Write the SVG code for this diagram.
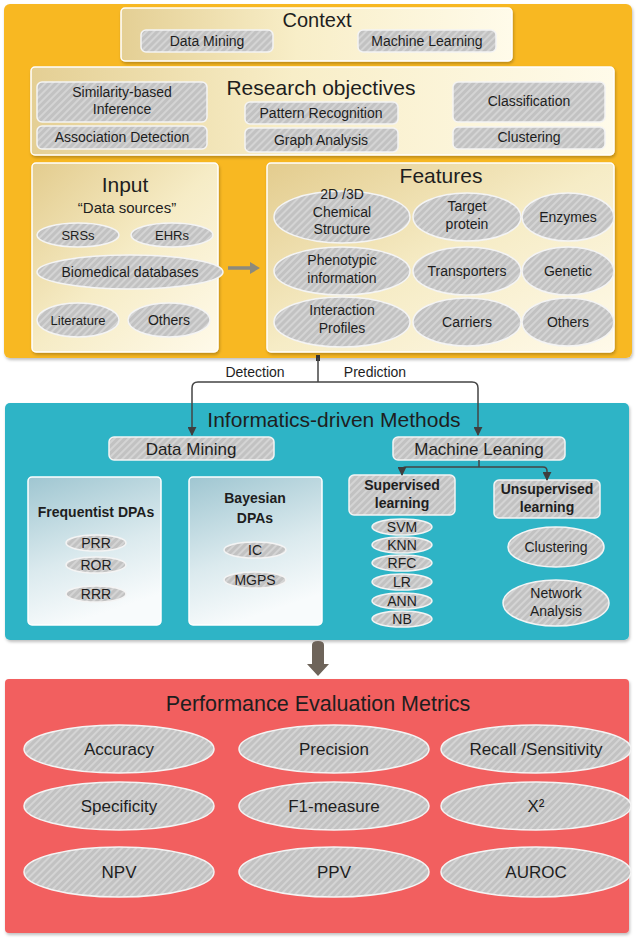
<svg xmlns="http://www.w3.org/2000/svg" width="640" height="942" viewBox="0 0 640 942">
<defs>
<pattern id="hatch" width="5" height="5" patternUnits="userSpaceOnUse" patternTransform="rotate(45)"><rect width="5" height="5" fill="#c2c2c2"/><line x1="1" y1="0" x2="1" y2="5" stroke="#d4d4d4" stroke-width="2"/></pattern>
<linearGradient id="gHor" x1="0" y1="0" x2="1" y2="0"><stop offset="0" stop-color="#e4cf94"/><stop offset="0.45" stop-color="#f8eec8"/><stop offset="1" stop-color="#fffbea"/></linearGradient>
<linearGradient id="gDiag" x1="0" y1="0" x2="1" y2="1"><stop offset="0" stop-color="#e3cc8e"/><stop offset="0.5" stop-color="#f6ecc6"/><stop offset="1" stop-color="#fffaea"/></linearGradient>
<linearGradient id="gBlue" x1="0" y1="0" x2="0.3" y2="1"><stop offset="0" stop-color="#9fc6d1"/><stop offset="0.6" stop-color="#dbeaee"/><stop offset="1" stop-color="#f8fbfc"/></linearGradient>
<filter id="sh" x="-5%" y="-5%" width="110%" height="115%"><feDropShadow dx="1" dy="2" stdDeviation="1.5" flood-color="#000" flood-opacity="0.25"/></filter>
<marker id="ah" viewBox="0 0 10 10" refX="9" refY="5" markerWidth="6" markerHeight="6" orient="auto"><path d="M0,0 L10,5 L0,10 Z" fill="#3e3e3e"/></marker>
<style>
text{font-family:"Liberation Sans",Arial,sans-serif;fill:#1e1e1e;text-anchor:middle}
.pill{fill:url(#hatch);stroke:#f4f4f4;stroke-width:1.5}
.box{stroke:#ffffff;stroke-width:1.5}
.t13{font-size:13px}.t14{font-size:14px}.t15{font-size:15px}.t17{font-size:17px}
.h{font-size:21px}
.b{font-weight:bold;font-size:14px}
.con{fill:none;stroke:#444;stroke-width:1.5}
</style>
</defs>

<!-- panels -->
<g id="panel-top"><rect x="4" y="4" width="628" height="354" rx="6" fill="#f8b822" filter="url(#sh)"/></g>
<g id="panel-methods"><rect x="5" y="403" width="624" height="237" rx="5" fill="#2db4c6" filter="url(#sh)"/></g>
<g id="panel-metrics"><rect x="5" y="679" width="624" height="254" rx="4" fill="#f25e5e" filter="url(#sh)"/></g>

<!-- Context -->
<g id="context">
<rect class="box" x="121" y="8" width="391" height="53" rx="4" fill="url(#gHor)" filter="url(#sh)"/>
<text class="h" x="317" y="27" style="font-size:20px">Context</text>
<g id="ctx-dm"><rect class="pill" x="141" y="30" width="132" height="22" rx="5"/><text class="t14" x="207" y="46">Data Mining</text></g>
<g id="ctx-ml"><rect class="pill" x="358" y="30" width="138" height="22" rx="5"/><text class="t14" x="427" y="46">Machine Learning</text></g>
</g>

<!-- Research objectives -->
<g id="research">
<rect class="box" x="31" y="67" width="583" height="88" rx="4" fill="url(#gHor)" filter="url(#sh)"/>
<text class="h" x="321" y="95">Research objectives</text>
<g id="ro-sim"><rect class="pill" x="37" y="82" width="170" height="40" rx="5"/><text class="t14" x="122" y="97">Similarity-based</text><text class="t14" x="122" y="114">Inference</text></g>
<g id="ro-assoc"><rect class="pill" x="37" y="126" width="170" height="23" rx="5"/><text class="t14" x="122" y="142">Association Detection</text></g>
<g id="ro-pattern"><rect class="pill" x="245" y="102" width="153" height="22" rx="5"/><text class="t14" x="321" y="118">Pattern Recognition</text></g>
<g id="ro-graph"><rect class="pill" x="245" y="128" width="153" height="24" rx="5"/><text class="t14" x="321" y="145">Graph Analysis</text></g>
<g id="ro-class"><rect class="pill" x="453" y="82" width="152" height="40" rx="5"/><text class="t14" x="529" y="106">Classification</text></g>
<g id="ro-clust"><rect class="pill" x="453" y="127" width="152" height="22" rx="5"/><text class="t14" x="529" y="142">Clustering</text></g>
</g>

<!-- Input -->
<g id="input">
<rect class="box" x="32" y="163" width="186" height="189" rx="4" fill="url(#gDiag)" filter="url(#sh)"/>
<text class="h" x="125" y="192">Input</text>
<text class="t15" x="127" y="213">“Data sources”</text>
<g id="in-srs"><ellipse class="pill" cx="78" cy="235" rx="41" ry="12"/><text class="t13" x="78" y="240">SRSs</text></g>
<g id="in-ehr"><ellipse class="pill" cx="172" cy="235" rx="41" ry="12"/><text class="t13" x="172" y="240">EHRs</text></g>
<g id="in-bio"><ellipse class="pill" cx="130" cy="272" rx="93" ry="17"/><text class="t14" x="130" y="277">Biomedical databases</text></g>
<g id="in-lit"><ellipse class="pill" cx="78" cy="320" rx="41" ry="17"/><text class="t13" x="78" y="325">Literature</text></g>
<g id="in-oth"><ellipse class="pill" cx="169" cy="320" rx="41" ry="17"/><text class="t14" x="169" y="325">Others</text></g>
</g>

<!-- Features -->
<g id="features">
<rect class="box" x="267" y="163" width="347" height="189" rx="4" fill="url(#gDiag)" filter="url(#sh)"/>
<text class="h" x="441" y="183">Features</text>
<g id="f-chem"><ellipse class="pill" cx="342" cy="217" rx="68" ry="26"/><text class="t14" x="342" y="199">2D /3D</text><text class="t14" x="342" y="217">Chemical</text><text class="t14" x="342" y="234">Structure</text></g>
<g id="f-target"><ellipse class="pill" cx="467" cy="217" rx="54" ry="24"/><text class="t14" x="467" y="211">Target</text><text class="t14" x="467" y="229">protein</text></g>
<g id="f-enz"><ellipse class="pill" cx="568" cy="217" rx="46" ry="24"/><text class="t14" x="568" y="222">Enzymes</text></g>
<g id="f-pheno"><ellipse class="pill" cx="342" cy="271" rx="68" ry="24"/><text class="t14" x="342" y="265">Phenotypic</text><text class="t14" x="342" y="283">information</text></g>
<g id="f-trans"><ellipse class="pill" cx="467" cy="271" rx="54" ry="24"/><text class="t14" x="467" y="276">Transporters</text></g>
<g id="f-gen"><ellipse class="pill" cx="568" cy="271" rx="46" ry="24"/><text class="t14" x="568" y="276">Genetic</text></g>
<g id="f-inter"><ellipse class="pill" cx="342" cy="322" rx="68" ry="25"/><text class="t14" x="342" y="315">Interaction</text><text class="t14" x="342" y="333">Profiles</text></g>
<g id="f-carr"><ellipse class="pill" cx="467" cy="322" rx="54" ry="24"/><text class="t14" x="467" y="327">Carriers</text></g>
<g id="f-oth"><ellipse class="pill" cx="568" cy="322" rx="46" ry="24"/><text class="t14" x="568" y="327">Others</text></g>
</g>

<!-- Methods -->
<g id="methods-title"><text class="h" x="334" y="427">Informatics-driven Methods</text></g>
<g id="m-dm"><rect class="pill" x="109" y="437" width="165" height="23" rx="5"/><text x="191" y="455" style="font-size:17px">Data Mining</text></g>
<g id="m-ml"><rect class="pill" x="393" y="437" width="172" height="23" rx="5"/><text x="479" y="455" style="font-size:17px">Machine Leaning</text></g>

<g id="freq">
<rect class="box" x="28" y="477" width="133" height="148" rx="4" fill="url(#gBlue)"/>
<text class="b" x="96" y="517">Frequentist DPAs</text>
<g id="prr"><ellipse class="pill" cx="96" cy="543" rx="30" ry="8"/><text class="t14" x="96" y="548">PRR</text></g>
<g id="ror"><ellipse class="pill" cx="96" cy="565" rx="30" ry="8"/><text class="t14" x="96" y="570">ROR</text></g>
<g id="rrr"><ellipse class="pill" cx="96" cy="594" rx="30" ry="8"/><text class="t14" x="96" y="599">RRR</text></g>
</g>
<g id="bayes">
<rect class="box" x="189" y="477" width="133" height="148" rx="4" fill="url(#gBlue)"/>
<text class="b" x="255" y="503">Bayesian</text>
<text class="b" x="255" y="523">DPAs</text>
<g id="ic"><ellipse class="pill" cx="255" cy="550" rx="31" ry="8"/><text class="t14" x="255" y="555">IC</text></g>
<g id="mgps"><ellipse class="pill" cx="255" cy="580" rx="31" ry="8"/><text class="t14" x="255" y="585">MGPS</text></g>
</g>
<g id="sup">
<rect class="pill" x="349" y="475" width="106" height="40" rx="5"/>
<text class="b" x="402" y="490">Supervised</text>
<text class="b" x="402" y="508">learning</text>
</g>
<g id="svm"><ellipse class="pill" cx="402" cy="527" rx="30" ry="8"/><text class="t14" x="402" y="532">SVM</text></g>
<g id="knn"><ellipse class="pill" cx="402" cy="545" rx="30" ry="8"/><text class="t14" x="402" y="550">KNN</text></g>
<g id="rfc"><ellipse class="pill" cx="402" cy="563" rx="30" ry="8"/><text class="t14" x="402" y="568">RFC</text></g>
<g id="lr"><ellipse class="pill" cx="402" cy="582" rx="30" ry="8"/><text class="t14" x="402" y="587">LR</text></g>
<g id="ann"><ellipse class="pill" cx="402" cy="601" rx="30" ry="8"/><text class="t14" x="402" y="606">ANN</text></g>
<g id="nb"><ellipse class="pill" cx="402" cy="619" rx="30" ry="8"/><text class="t14" x="402" y="624">NB</text></g>
<g id="unsup">
<rect class="pill" x="494" y="480" width="106" height="38" rx="5"/>
<text class="b" x="547" y="494">Unsupervised</text>
<text class="b" x="547" y="512">learning</text>
</g>
<g id="m-clust"><ellipse class="pill" cx="556" cy="547" rx="48" ry="20"/><text class="t14" x="556" y="552">Clustering</text></g>
<g id="m-net"><ellipse class="pill" cx="556" cy="603" rx="53" ry="23"/><text class="t14" x="556" y="598">Network</text><text class="t14" x="556" y="616">Analysis</text></g>

<!-- Metrics -->
<g id="metrics-title"><text class="h" x="318" y="711" style="font-size:21.5px">Performance Evaluation Metrics</text></g>
<g id="acc"><ellipse class="pill" cx="119" cy="749" rx="95" ry="24"/><text class="t17" x="119" y="755">Accuracy</text></g>
<g id="prec"><ellipse class="pill" cx="334" cy="749" rx="95" ry="24"/><text class="t17" x="334" y="755">Precision</text></g>
<g id="recall"><ellipse class="pill" cx="536" cy="749" rx="95" ry="24"/><text class="t17" x="536" y="755">Recall /Sensitivity</text></g>
<g id="spec"><ellipse class="pill" cx="119" cy="806" rx="95" ry="24"/><text class="t17" x="119" y="812">Specificity</text></g>
<g id="f1"><ellipse class="pill" cx="334" cy="806" rx="95" ry="24"/><text class="t17" x="334" y="812">F1-measure</text></g>
<g id="chi"><ellipse class="pill" cx="536" cy="806" rx="95" ry="24"/><text class="t17" x="536" y="812">X²</text></g>
<g id="npv"><ellipse class="pill" cx="119" cy="872" rx="95" ry="25"/><text class="t17" x="119" y="878">NPV</text></g>
<g id="ppv"><ellipse class="pill" cx="334" cy="872" rx="95" ry="25"/><text class="t17" x="334" y="878">PPV</text></g>
<g id="auroc"><ellipse class="pill" cx="536" cy="872" rx="95" ry="25"/><text class="t17" x="536" y="878">AUROC</text></g>

<!-- connectors -->
<g id="connectors">
<path d="M228,268 H252" stroke="#8c8a7c" stroke-width="3.5" fill="none"/>
<path d="M250,262 L260,268 L250,274 Z" fill="#8c8a7c"/>
<rect x="316" y="355" width="4" height="6" fill="#333"/>
<path class="con" d="M318,358 V382"/>
<path class="con" d="M318,382 H198 Q192,382 192,388 V435" marker-end="url(#ah)"/>
<path class="con" d="M318,382 H472 Q478,382 478,388 V435" marker-end="url(#ah)"/>
<text class="t14" x="255" y="377">Detection</text>
<text class="t14" x="375" y="377">Prediction</text>
<path class="con" d="M479,460 V467"/>
<path class="con" d="M479,467 H406 Q402,467 402,471 V475" marker-end="url(#ah)"/>
<path class="con" d="M479,467 H543 Q547,467 547,471 V480" marker-end="url(#ah)"/>
<path d="M312,645 Q312,641 318,641 Q324,641 324,645 V664 H329 L318,676 L307,664 H312 Z" fill="#6e645a"/>
</g>
</svg>
